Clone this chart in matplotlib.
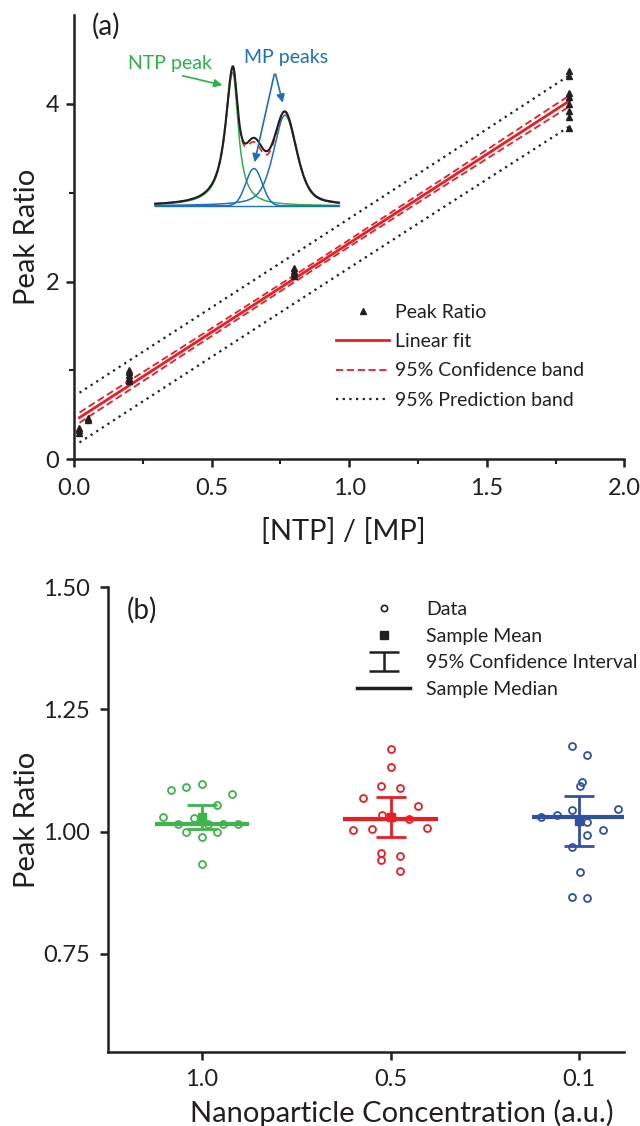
import numpy as np
import matplotlib
matplotlib.use('Agg')
import matplotlib.pyplot as plt
from matplotlib.lines import Line2D

plt.rcParams['font.family'] = ['Lato', 'DejaVu Sans']
INK = '#231f20'

# ---- panel (a) data ----
ratio_x = [0.02, 0.02, 0.02, 0.05, 0.05, 0.2, 0.2, 0.2, 0.2, 0.2,
           0.8, 0.8, 0.8, 0.8, 1.8, 1.8, 1.8, 1.8, 1.8, 1.8, 1.8, 1.8]
peak_ratio = [0.30, 0.33, 0.35, 0.44, 0.46, 0.88, 0.92, 0.95, 0.98, 1.00,
              2.06, 2.09, 2.12, 2.15, 3.73, 3.85, 3.92, 4.00, 4.07, 4.12, 4.31, 4.37]
fit_intercept = 0.43
fit_slope = 2.0
band_x = [0.02, 0.45, 0.9, 1.35, 1.8]
conf_half = [0.058, 0.045, 0.037, 0.045, 0.062]
pred_half = [0.28, 0.278, 0.277, 0.28, 0.288]

# inset spectrum peaks, in panel-a units
inset_base = 2.85
inset_range = [0.295, 0.963]
ntp_peak = (0.577, 1.50, 0.032, 0.024)      # center, height, left / right half width
mp_peak_small = (0.654, 0.42, 0.030)        # center, height, sigma
mp_peak_big = (0.767, 1.02, 0.050)          # center, height, half width
shoulder = (0.67, 0.12, 0.05)               # extra in the measured trace

# ---- panel (b) data ----
conc_labels = ['1.0', '0.5', '0.1']
green_vals = [1.085, 1.092, 1.098, 1.076, 1.055, 1.030, 1.027, 1.015, 1.016, 1.016,
              1.016, 0.999, 1.000, 0.988, 0.934]
green_off = [-0.164, -0.083, 0, 0.162, 0.081, -0.205, -0.041, -0.129, 0.032, 0.112,
             0.19, -0.083, 0.081, 0, 0]
red_vals = [1.170, 1.133, 1.094, 1.089, 1.068, 1.053, 1.033, 1.025, 1.004, 1.005,
            1.007, 0.956, 0.942, 0.951, 0.919]
red_off = [0, 0, -0.048, 0.048, -0.148, 0.144, -0.044, 0.096, -0.199, -0.1,
           0.192, -0.048, -0.048, 0.048, 0.048]
blue_vals = [1.175, 1.157, 1.101, 1.093, 1.047, 1.044, 1.030, 1.034, 1.020, 1.004,
             0.994, 0.968, 0.918, 0.867, 0.865]
blue_off = [-0.039, 0.044, 0.015, 0.002, 0.207, -0.039, -0.2, -0.12, 0.044, 0.124,
            0.044, -0.039, 0.002, -0.039, 0.044]
t_crit = 2.145  # df = 14

fig = plt.figure(figsize=(6.4, 11.26), dpi=100)

# ================= panel (a) =================
ax1 = fig.add_axes([0.1156, 0.592, 0.86, 0.395])
bx = np.array(band_x)
fit = fit_intercept + fit_slope * bx
ax1.plot(bx, fit - np.array(pred_half), color=INK, ls=(0, (1, 2)), lw=1.6)
ax1.plot(bx, fit + np.array(pred_half), color=INK, ls=(0, (1, 2)), lw=1.6)
ax1.plot(bx, fit - np.array(conf_half), color='#ed1c24', ls=(0, (4, 2)), lw=1.3)
ax1.plot(bx, fit + np.array(conf_half), color='#ed1c24', ls=(0, (4, 2)), lw=1.3)
ax1.plot(bx, fit, color='#ed1c24', lw=2)
ax1.plot(ratio_x, peak_ratio, ls='none', marker='^', ms=5, color=INK)

# inset spectrum
xs = np.linspace(inset_range[0], inset_range[1], 400)
c, h, wl, wr = ntp_peak
g_ntp = h / (1 + ((xs - c) / np.where(xs < c, wl, wr)) ** 2)
c, h, w = mp_peak_small
g_mp1 = h * np.exp(-0.5 * ((xs - c) / w) ** 2)
c, h, w = mp_peak_big
g_mp2 = h * (0.5 / (1 + ((xs - c) / w) ** 2) + 0.5 * np.exp(-np.log(2) * ((xs - c) / w) ** 2))
c, h, w = shoulder
g_sh = h * np.exp(-0.5 * ((xs - c) / w) ** 2)
fit_sum = g_ntp + g_mp1 + g_mp2
ax1.plot(xs, inset_base + g_ntp, color='#2bb24c', lw=1.1)
ax1.plot(xs, inset_base + g_mp1, color='#1f6fc0', lw=1.1)
ax1.plot(xs, inset_base + g_mp2, color='#1f6fc0', lw=1.1)
ax1.plot(inset_range, [inset_base, inset_base], color='#1f6fc0', lw=1.0)
ax1.plot(xs, inset_base + fit_sum + 0.6 * g_sh, color='#ed1c24', lw=1.2, ls=(0, (4, 3)))
ax1.plot(xs, inset_base + fit_sum + g_sh, color=INK, lw=1.5)

ax1.text(0.349, 4.45, 'NTP peak', color='#2bb24c', fontsize=14, ha='center', va='center')
ax1.annotate('', xy=(0.549, 4.20), xytext=(0.385, 4.32),
             arrowprops=dict(arrowstyle='-|>', color='#2bb24c', lw=1.2, mutation_scale=12))
ax1.text(0.770, 4.52, 'MP peaks', color='#1f6fc0', fontsize=14, ha='center', va='center')
for head in [(0.654, 3.31), (0.761, 3.98)]:
    ax1.annotate('', xy=head, xytext=(0.730, 4.36),
                 arrowprops=dict(arrowstyle='-|>', color='#1f6fc0', lw=1.2, mutation_scale=12))

ax1.text(0.065, 4.87, '(a)', fontsize=20, color=INK, ha='left', va='center')

ax1.set_xlim(0, 2.0)
ax1.set_ylim(0, 5)
ax1.set_xticks([0, 0.5, 1.0, 1.5, 2.0])
ax1.set_xticklabels(['0.0', '0.5', '1.0', '1.5', '2.0'])
ax1.set_xticks([0.25, 0.75, 1.25, 1.75], minor=True)
ax1.set_yticks([0, 2, 4])
ax1.set_yticks([1, 3], minor=True)
ax1.set_xlabel('[NTP] / [MP]', fontsize=21, color=INK)
ax1.set_ylabel('Peak Ratio', fontsize=21, color=INK)
ax1.xaxis.set_label_coords(0.49, -0.132)
ax1.yaxis.set_label_coords(-0.062, 0.5)

h_a = [Line2D([], [], ls='none', marker='^', ms=5, color=INK),
       Line2D([], [], color='#ed1c24', lw=2),
       Line2D([], [], color='#ed1c24', lw=1.3, ls=(0, (4, 2))),
       Line2D([], [], color=INK, lw=1.6, ls=(0, (1, 2)))]
l_a = ['Peak Ratio', 'Linear fit', '95% Confidence band', '95% Prediction band']
ax1.legend(h_a, l_a, loc='upper left', bbox_to_anchor=(336 / 640, 1 - 304 / 1126),
           bbox_transform=fig.transFigure, frameon=False, borderpad=0, borderaxespad=0,
           handlelength=2.73, handletextpad=0.29, labelspacing=0.63, fontsize=14,
           labelcolor=INK)

# ================= panel (b) =================
ax2 = fig.add_axes([0.168, 0.0661, 0.8077, 0.4124])
groups = [(green_vals, green_off, '#3db54a'),
          (red_vals, red_off, '#ed1c24'),
          (blue_vals, blue_off, '#3050a3')]
for i, (vals, off, col) in enumerate(groups):
    pos = i + 1
    v = np.array(vals)
    ax2.plot(pos + np.array(off), v, ls='none', marker='o', ms=5, mfc='none',
             mec=col, mew=1.3, zorder=2)
    mean = v.mean()
    ci = t_crit * v.std(ddof=1) / np.sqrt(len(v))
    med = np.median(v)
    ax2.hlines(med, pos - 0.25, pos + 0.25, color=col, lw=3, zorder=3)
    ax2.errorbar([pos], [mean], yerr=[ci], fmt='none', ecolor=col, elinewidth=2,
                 capsize=11, capthick=2, zorder=3)
    ax2.plot([pos], [mean], ls='none', marker='s', ms=6, color=col, zorder=4)

ax2.text(0.604, 1.453, '(b)', fontsize=20, color=INK, ha='left', va='center')

ax2.set_xlim(0.5, 3.24)
ax2.set_ylim(0.55, 1.50)
ax2.set_xticks([1, 2, 3])
ax2.set_xticklabels(conc_labels)
ax2.set_yticks([0.75, 1.00, 1.25, 1.50])
ax2.set_yticklabels(['0.75', '1.00', '1.25', '1.50'])
ax2.set_xlabel('Nanoparticle Concentration (a.u.)', fontsize=21, color=INK)
ax2.set_ylabel('Peak Ratio', fontsize=21, color=INK)
ax2.xaxis.set_label_coords(0.57, -0.104)
ax2.yaxis.set_label_coords(-0.130, 0.5)

ci_proxy = ax2.errorbar([np.nan], [np.nan], yerr=[0.01], fmt='none', ecolor=INK,
                        elinewidth=1.8, capsize=11, capthick=1.8)
h_b = [Line2D([], [], ls='none', marker='o', ms=4.5, mfc='none', mec=INK, mew=1.2),
       Line2D([], [], ls='none', marker='s', ms=6, color=INK),
       ci_proxy,
       Line2D([], [], color=INK, lw=2.5)]
l_b = ['Data', 'Sample Mean', '95% Confidence Interval', 'Sample Median']
ax2.legend(h_b, l_b, loc='upper left', bbox_to_anchor=(357 / 640, 1 - 601 / 1126),
           bbox_transform=fig.transFigure, frameon=False, borderpad=0, borderaxespad=0,
           handlelength=2.73, handletextpad=0.82, labelspacing=0.5, fontsize=14,
           labelcolor=INK)

for ax in (ax1, ax2):
    for s in ('top', 'right'):
        ax.spines[s].set_visible(False)
    for s in ('left', 'bottom'):
        ax.spines[s].set_linewidth(1.8)
        ax.spines[s].set_color(INK)
    ax.tick_params(which='major', direction='out', length=5.5, width=1.8, labelsize=17,
                   colors=INK, pad=5)
    ax.tick_params(which='minor', direction='out', length=3.5, width=1.5, colors=INK)
ax1.tick_params(axis='x', which='major', pad=8)
ax2.tick_params(axis='both', which='major', pad=7)

fig.savefig('out.png', dpi=100)
